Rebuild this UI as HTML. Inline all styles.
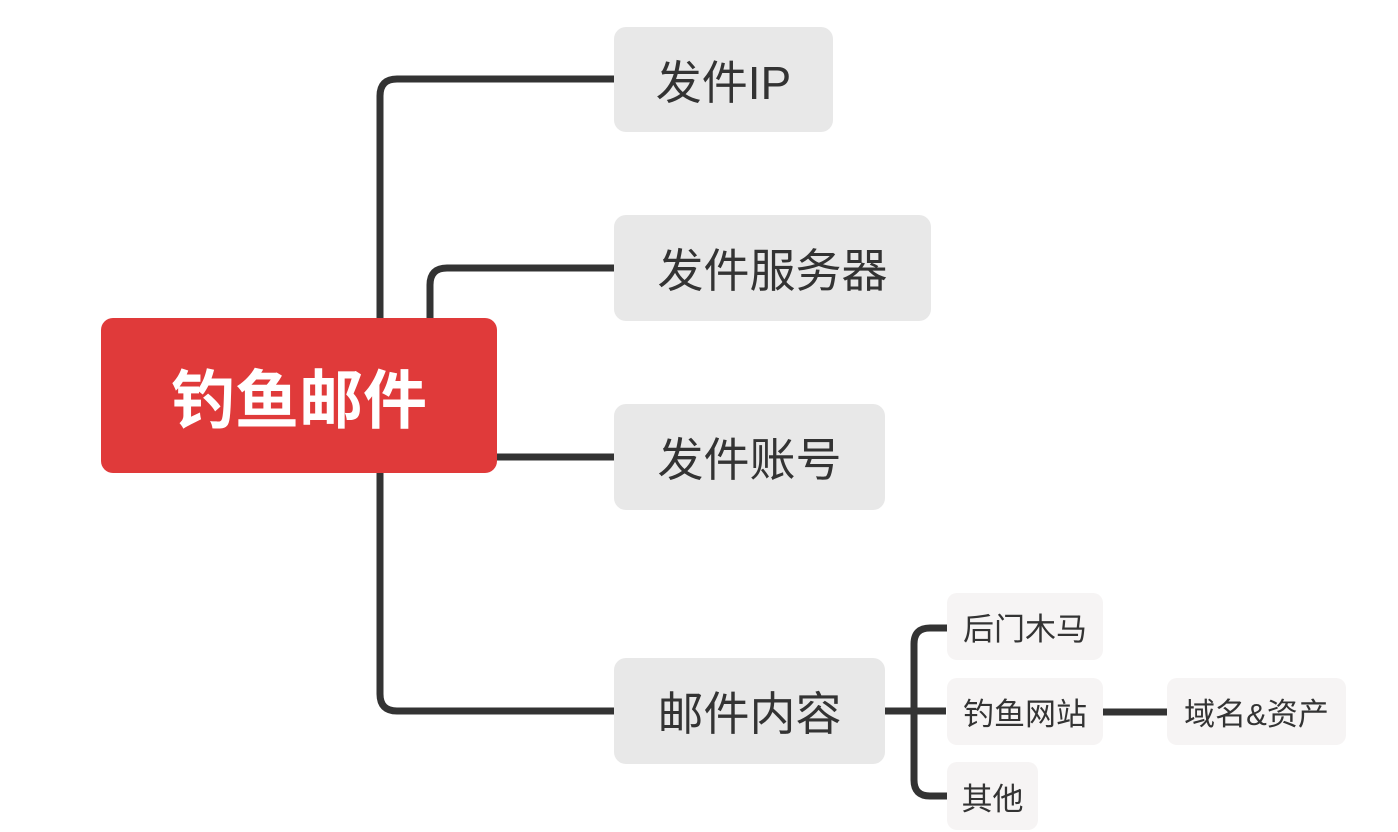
<!DOCTYPE html>
<html><head><meta charset="utf-8"><style>
body{margin:0;width:1398px;height:832px;background:#fff;position:relative;overflow:hidden;font-family:"Liberation Sans","Noto Sans CJK SC",sans-serif}
.n{position:absolute;display:flex;align-items:center;justify-content:center;box-sizing:border-box;color:#333}
.g{background:#e8e8e8;border-radius:12px;font-size:46px}
.s{background:#f6f4f4;border-radius:10px;font-size:31px}
svg{position:absolute;left:0;top:0}
</style></head><body>
<svg width="1398" height="832"><g fill="none" stroke="#333" stroke-width="7" stroke-linejoin="round">
<path d="M380 320 V96 Q380 79 397 79 H616"/>
<path d="M430 320 V285 Q430 268 447 268 H616"/>
<path d="M495 457 H616"/>
<path d="M380 472 V694 Q380 711 397 711 H616"/>
<path d="M884 711 H946"/>
<path d="M948 628 H930 Q914 628 914 644 V780 Q914 796 930 796 H948"/>
<path d="M1102 712 H1168"/>
</g></svg>
<div class="n" style="left:101px;top:318px;width:396px;height:155px;background:#e03a3a;border-radius:12px;color:#fff;font-size:64px;font-weight:bold">钓鱼邮件</div>
<div class="n g" style="left:614px;top:27px;width:219px;height:105px">发件IP</div>
<div class="n g" style="left:614px;top:215px;width:317px;height:106px">发件服务器</div>
<div class="n g" style="left:614px;top:404px;width:271px;height:106px">发件账号</div>
<div class="n g" style="left:614px;top:658px;width:271px;height:106px">邮件内容</div>
<div class="n s" style="left:947px;top:593px;width:156px;height:67px">后门木马</div>
<div class="n s" style="left:947px;top:678px;width:156px;height:67px">钓鱼网站</div>
<div class="n s" style="left:947px;top:762px;width:91px;height:68px">其他</div>
<div class="n s" style="left:1167px;top:678px;width:179px;height:67px">域名&amp;资产</div>
</body></html>
